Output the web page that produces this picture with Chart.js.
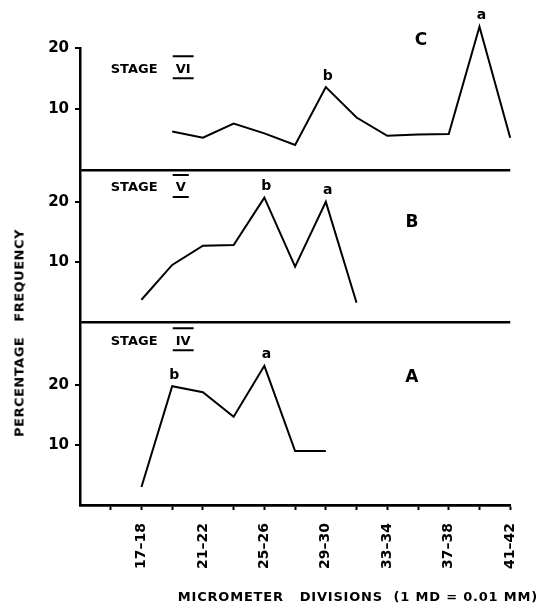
<!DOCTYPE html>
<html>
<head>
<meta charset="utf-8">
<script src="https://cdn.jsdelivr.net/npm/chart.js@4.4.0/dist/chart.umd.min.js"></script>
<style>
  html, body { margin: 0; padding: 0; background: #fff; }
  #wrap { position: relative; width: 540px; height: 605px; }
  #chart { position: absolute; left: 0; top: 0; }
  .ttl { position: absolute; font: bold 13px "DejaVu Sans", sans-serif; color: #000; white-space: pre; }
  #ytitle { left: 19px; top: 333px; transform: translate(-50%, -50%) rotate(-90deg); letter-spacing: 0.5px; }
  #xtitle { right: 2px; top: 589px; letter-spacing: 0.8px; }
</style>
</head>
<body>
<div id="wrap">
  <canvas id="chart" width="540" height="605"></canvas>
  <div class="ttl" id="ytitle">PERCENTAGE   FREQUENCY</div>
  <div class="ttl" id="xtitle">MICROMETER   DIVISIONS  (1 MD = 0.01 MM)</div>
</div>
<script>
// ---------- dados ----------
const categories = ["13–14", "15–16", "17–18", "19–20", "21–22", "23–24", "25–26",
  "27–28", "29–30", "31–32", "33–34", "35–36", "37–38", "39–40", "41–42"];
const tickLabels = ["17–18", "21–22", "25–26", "29–30", "33–34", "37–38", "41–42"];
const yTicks = [10, 20];

// percentage frequency per micrometer class
const stageIV = [null, null, 3.0, 19.8, 18.8, 14.7, 23.2, 9.0, 9.0, null, null, null, null, null, null];
const stageV  = [null, null, 3.7, 9.5, 12.7, 12.8, 20.7, 9.2, 20.0, 3.2, null, null, null, null, null];
const stageVI = [null, null, null, 6.3, 5.3, 7.6, 6.0, 4.1, 13.6, 8.6, 5.6, 5.8, 5.9, 23.5, 5.3];

// peak letters (index into categories)
const peaksIV = [{ i: 3, t: "b" }, { i: 6, t: "a" }];
const peaksV  = [{ i: 6, t: "b" }, { i: 8, t: "a" }];
const peaksVI = [{ i: 8, t: "b" }, { i: 13, t: "a" }];

// panel captions
const panels = [
  { axis: "yA", roman: "IV", letter: "A", stageAt: [1, 27.3], letterAt: [10.8, 21.2] },
  { axis: "yB", roman: "V",  letter: "B", stageAt: [1, 22.3], letterAt: [10.8, 16.5] },
  { axis: "yC", roman: "VI", letter: "C", stageAt: [1, 16.5], letterAt: [11.1, 21.2] },
];

// ---------- eixos ----------
function isZero(c) { return c.tick && c.tick.value === 0; }
function isShown(c) { return c.tick && yTicks.includes(c.tick.value); }

function yAxis(max, weight) {
  return {
    type: "linear",
    position: "left",
    stack: "panels",
    stackWeight: weight,
    min: 0,
    max: max,
    border: { color: "#000", width: 2.5 },
    grid: {
      drawOnChartArea: true,
      color: (c) => (isZero(c) ? "#000" : "rgba(0,0,0,0)"),
      lineWidth: (c) => (isZero(c) ? 2.5 : 0),
      tickColor: (c) => (isShown(c) ? "#000" : "rgba(0,0,0,0)"),
      tickLength: 5,
      tickWidth: 2,
    },
    ticks: {
      stepSize: 10,
      includeBounds: false,
      color: "#000",
      padding: 6,
      font: { family: "DejaVu Sans", size: 15, weight: "bold" },
      callback: (v) => (yTicks.includes(v) ? v : ""),
    },
    afterFit: (s) => { s.width = 80; },
  };
}

// ---------- letras e rótulos ----------
const notesPlugin = {
  id: "notes",
  afterDatasetsDraw(chart) {
    const ctx = chart.ctx;
    const xs = chart.scales.x;
    ctx.save();
    ctx.fillStyle = "#000";
    ctx.strokeStyle = "#000";

    [peaksIV, peaksV, peaksVI].forEach((list, di) => {
      const meta = chart.getDatasetMeta(di);
      list.forEach((p) => {
        const pt = meta.data[p.i];
        ctx.font = "bold 14px DejaVu Sans";
        ctx.textAlign = "center";
        ctx.textBaseline = "bottom";
        ctx.fillText(p.t, pt.x + 2, pt.y - 4);
      });
    });

    panels.forEach((p) => {
      const ys = chart.scales[p.axis];
      const x0 = xs.getPixelForValue(p.stageAt[0]);
      const y0 = ys.getPixelForValue(p.stageAt[1]);
      ctx.font = "bold 13px DejaVu Sans";
      ctx.textAlign = "left";
      ctx.textBaseline = "middle";
      ctx.fillText("STAGE", x0, y0);
      const rx = x0 + 65;
      ctx.fillText(p.roman, rx, y0);
      const w = ctx.measureText(p.roman).width;
      ctx.lineWidth = 2;
      ctx.beginPath();
      ctx.moveTo(rx - 3, y0 - 13); ctx.lineTo(rx + w + 3, y0 - 13);
      ctx.moveTo(rx - 3, y0 + 9); ctx.lineTo(rx + w + 3, y0 + 9);
      ctx.stroke();

      ctx.font = "bold 17px DejaVu Sans";
      ctx.textAlign = "center";
      ctx.fillText(p.letter, xs.getPixelForValue(p.letterAt[0]), ys.getPixelForValue(p.letterAt[1]));
    });
    ctx.restore();
  },
};

// ---------- gráfico ----------
function serie(data, axis) {
  return {
    data: data,
    yAxisID: axis,
    borderColor: "#000",
    borderWidth: 2,
    pointRadius: 0,
    tension: 0,
    fill: false,
    clip: false,
  };
}

new Chart(document.getElementById("chart"), {
  type: "line",
  data: {
    labels: categories,
    datasets: [serie(stageIV, "yA"), serie(stageV, "yB"), serie(stageVI, "yC")],
  },
  options: {
    responsive: false,
    animation: false,
    layout: { padding: { top: 48, right: 26, left: 0, bottom: 0 } },
    plugins: { legend: { display: false }, tooltip: { enabled: false } },
    scales: {
      x: {
        type: "category",
        offset: false,
        border: { color: "#000", width: 2.5 },
        grid: {
          drawOnChartArea: false,
          tickLength: 5,
          tickWidth: 2,
          tickColor: (c) => (c.index === 0 ? "rgba(0,0,0,0)" : "#000"),
        },
        ticks: {
          autoSkip: false,
          minRotation: 90,
          maxRotation: 90,
          padding: 13,
          color: "#000",
          font: { family: "DejaVu Sans", size: 14, weight: "bold" },
          callback: function (v) {
            const l = this.getLabelForValue(v);
            return tickLabels.includes(l) ? l : "";
          },
        },
        afterFit: (s) => { s.height = 100; },
      },
      yA: yAxis(30.5, 183),
      yB: yAxis(25.3, 152),
      yC: yAxis(20, 122),
    },
  },
  plugins: [notesPlugin],
});
</script>
</body>
</html>
